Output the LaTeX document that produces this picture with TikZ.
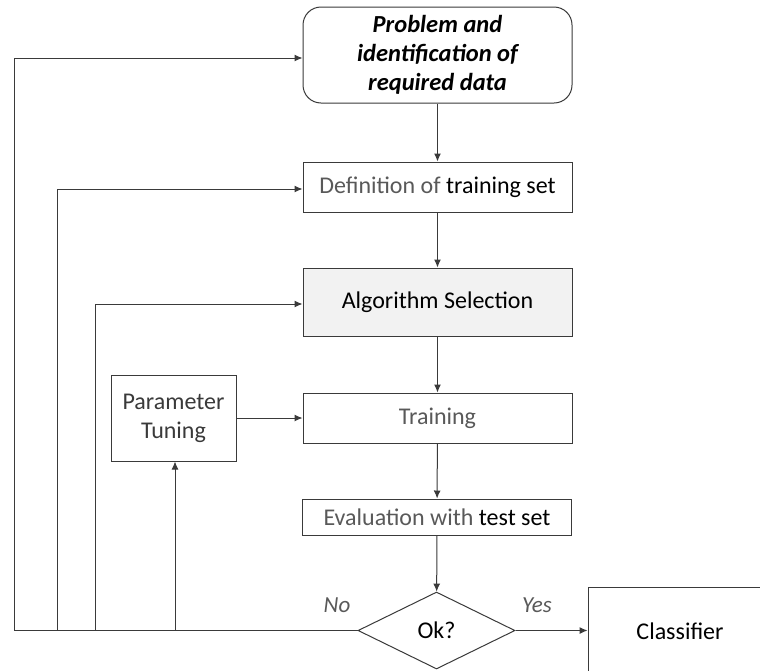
\documentclass[tikz,border=0pt]{standalone}
\usepackage{fontspec}
\setmainfont{Carlito}
\usetikzlibrary{arrows.meta,shapes.geometric}
\definecolor{edge}{HTML}{3A3A3A}
\definecolor{lighttxt}{HTML}{595959}
\definecolor{selfill}{HTML}{F2F2F2}
\tikzset{
  stepbox/.style={draw=edge, line width=1pt, rectangle, minimum width=269pt, align=center, inner sep=0pt},
  arr/.style={draw=edge, line width=1pt, -{Latex[length=8pt,width=7pt]}},
  wire/.style={draw=edge, line width=1pt},
  txt/.style={font=\fontsize{24}{29}\selectfont},
  lbl/.style={font=\fontsize{23}{26}\selectfont\itshape, text=lighttxt}
}
\begin{document}
\begin{tikzpicture}[x=1pt,y=-1pt]
\useasboundingbox (0,0) rectangle (760,670);
\clip (0,0) rectangle (760,670);
\fill[white] (0,0) rectangle (760,670);

% main column
\node[stepbox, rounded corners=18pt, minimum height=96pt,
      font=\fontsize{24.5}{29}\selectfont\bfseries\itshape] (top) at (437.5,55)
      {Problem and\\identification of\\required data};
\node[stepbox, txt, minimum height=50pt] (def) at (437.5,187)
      {\textcolor{lighttxt}{Definition of} training set};
\node[stepbox, txt, minimum height=68pt, fill=selfill] (alg) at (437.5,302)
      {Algorithm Selection};
\node[stepbox, txt, minimum height=50pt, text=lighttxt] (train) at (437.5,418)
      {Training};
\node[stepbox, txt, minimum height=36pt] (eval) at (437,517)
      {\textcolor{lighttxt}{Evaluation with} test set};
\node[stepbox, txt, minimum width=125pt, minimum height=86pt, text=edge] (param) at (173.5,418)
      {Parameter\\Tuning};
\node[draw=edge, line width=1pt, diamond, aspect=2, minimum width=157pt, minimum height=77pt,
      inner sep=0pt, txt] (dia) at (436.5,630.5) {Ok?};

% output box runs off the page edge
\node[draw=edge, line width=1pt, rectangle, minimum width=190pt, minimum height=113pt,
      inner sep=0pt] (clsbox) at (683,643.5) {};
\node[txt] (cls) at (680,631) {Classifier};

% forward flow
\draw[arr] (top) -- (def);
\draw[arr] (def) -- (alg);
\draw[arr] (alg) -- (train);
\draw[arr] (train) -- (eval);
\draw[arr] (eval) -- (dia);
\draw[arr] (param.east |- train.west) -- (train.west);
\draw[arr] (dia.east) -- (dia.east -| clsbox.west);

% feedback loops
\coordinate (fbA) at (14,630.5);
\coordinate (fbB) at (57,630.5);
\coordinate (fbC) at (95,630.5);
\coordinate (fbD) at (175,630.5);
\draw[wire] (dia.west) -- (fbA);
\draw[arr] (fbA) |- ([yshift=-3pt]top.west);
\draw[arr] (fbB) |- ([yshift=-2pt]def.west);
\draw[arr] (fbC) |- ([yshift=-2pt]alg.west);
\draw[arr] (fbD) -- (fbD |- param.south);

% branch labels
\node[lbl] (no) at (337,605) {No};
\node[lbl] (yes) at (537,605) {Yes};
\end{tikzpicture}
\end{document}
